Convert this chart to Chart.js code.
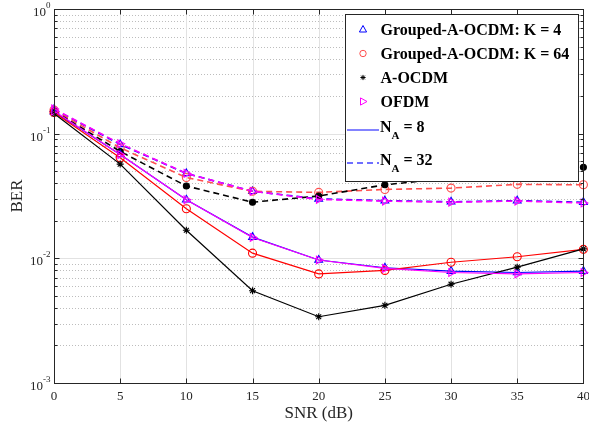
<!DOCTYPE html>
<html>
<head>
<meta charset="utf-8">
<script src="https://cdn.jsdelivr.net/npm/chart.js@4.4.1/dist/chart.umd.min.js"></script>
<style>
  html, body { margin: 0; padding: 0; background: #fff; }
  #wrap { width: 589px; height: 427px; }
</style>
</head>
<body>
<div id="wrap"><canvas id="berChart"></canvas></div>
<script>
const snr = [0, 5, 10, 15, 20, 25, 30, 35, 40];
const xTicks = [0, 5, 10, 15, 20, 25, 30, 35, 40];
const yDecades = [0, -1, -2, -3];

// N_A = 8 (solid lines)
const k4Na8    = [0.150, 0.068, 0.0295, 0.0148, 0.0097, 0.0084, 0.0079, 0.0077, 0.0079];
const k64Na8   = [0.148, 0.064, 0.0250, 0.0110, 0.0075, 0.0080, 0.0093, 0.0103, 0.0118];
const aocdmNa8 = [0.145, 0.057, 0.0168, 0.0055, 0.0034, 0.0042, 0.0062, 0.0085, 0.0119];
const ofdmNa8  = [0.152, 0.068, 0.0295, 0.0147, 0.0097, 0.0083, 0.0077, 0.0075, 0.0077];

// N_A = 32 (dashed lines)
const k4Na32    = [0.157, 0.082, 0.048, 0.0345, 0.0300, 0.0290, 0.0284, 0.0290, 0.0282];
const k64Na32   = [0.155, 0.077, 0.0445, 0.0345, 0.0338, 0.0357, 0.0366, 0.0392, 0.0389];
const aocdmNa32 = [0.152, 0.072, 0.038, 0.0282, 0.0316, 0.0389, 0.0440, 0.0490, 0.0537];
const ofdmNa32  = [0.158, 0.083, 0.048, 0.0345, 0.0297, 0.0288, 0.0282, 0.0288, 0.0278];

const legendLabels = ['Grouped-A-OCDM: K = 4', 'Grouped-A-OCDM: K = 64', 'A-OCDM', 'OFDM'];

const BLUE = '#0000ff', RED = '#ff0000', BLACK = '#000000', MAGENTA = '#ff00ff';
const RED_LIGHT = '#ff4d4d';
const SERIF = '"Liberation Serif", "Times New Roman", serif';

function series(values, color, style, dashed, extra) {
  return Object.assign({
    data: snr.map((s, i) => ({ x: s, y: values[i] })),
    borderColor: color,
    borderWidth: dashed ? 1.6 : 1.2,
    borderDash: dashed ? [6, 4] : [],
    pointStyle: style,
    pointRadius: 4.5,
    pointBorderColor: color,
    pointBackgroundColor: 'rgba(0,0,0,0)',
    pointBorderWidth: 1.1,
    tension: 0,
    fill: false,
    clip: false
  }, extra || {});
}

const datasets = [
  series(k4Na32, BLUE, 'triangle', true),
  series(k64Na32, RED_LIGHT, 'circle', true, { pointRadius: 4 }),
  series(aocdmNa32, BLACK, 'circle', true, { pointRadius: 3, pointBackgroundColor: BLACK }),
  series(ofdmNa32, MAGENTA, 'triangle', true, { pointRotation: 90 }),
  series(k4Na8, BLUE, 'triangle', false),
  series(k64Na8, RED, 'circle', false, { pointRadius: 4 }),
  series(aocdmNa8, BLACK, 'star', false, { pointRadius: 3.5 }),
  series(ofdmNa8, MAGENTA, 'triangle', false, { pointRotation: 90 })
];
// later series sit on top
datasets.forEach((d, i) => { d.order = datasets.length - i; });

// grid, axes box, tick labels, axis titles and legend
const framePlugin = {
  id: 'frame',
  beforeDatasetsDraw(chart) {
    const { ctx, chartArea: a, scales: { x, y } } = chart;
    ctx.save();
    ctx.lineWidth = 1;
    // minor log grid (dotted)
    ctx.strokeStyle = '#bdbdbd';
    ctx.setLineDash([1, 2]);
    for (let e = -3; e < 0; e++) {
      for (let m = 2; m <= 9; m++) {
        const py = Math.round(y.getPixelForValue(m * Math.pow(10, e))) + 0.5;
        ctx.beginPath(); ctx.moveTo(a.left, py); ctx.lineTo(a.right, py); ctx.stroke();
      }
    }
    // major grid (solid)
    ctx.setLineDash([]);
    ctx.strokeStyle = '#e2e2e2';
    xTicks.forEach(t => {
      const px = Math.round(x.getPixelForValue(t)) + 0.5;
      ctx.beginPath(); ctx.moveTo(px, a.top); ctx.lineTo(px, a.bottom); ctx.stroke();
    });
    yDecades.forEach(e => {
      const py = Math.round(y.getPixelForValue(Math.pow(10, e))) + 0.5;
      ctx.beginPath(); ctx.moveTo(a.left, py); ctx.lineTo(a.right, py); ctx.stroke();
    });
    ctx.restore();
  },
  afterDatasetsDraw(chart) {
    const { ctx, chartArea: a, scales: { x, y } } = chart;
    const L = Math.round(a.left) + 0.5, R = Math.round(a.right) + 0.5;
    const T = Math.round(a.top) + 0.5, B = Math.round(a.bottom) + 0.5;
    ctx.save();
    ctx.strokeStyle = '#262626';
    ctx.lineWidth = 1;
    ctx.strokeRect(L, T, R - L, B - T);

    // x ticks, top and bottom
    ctx.beginPath();
    xTicks.forEach(t => {
      const px = Math.round(x.getPixelForValue(t)) + 0.5;
      ctx.moveTo(px, B); ctx.lineTo(px, B - 5);
      ctx.moveTo(px, T); ctx.lineTo(px, T + 5);
    });
    // y ticks, left and right
    for (let e = -3; e <= 0; e++) {
      const py = Math.round(y.getPixelForValue(Math.pow(10, e))) + 0.5;
      ctx.moveTo(L, py); ctx.lineTo(L + 5, py);
      ctx.moveTo(R, py); ctx.lineTo(R - 5, py);
      if (e === 0) continue;
      for (let m = 2; m <= 9; m++) {
        const pm = Math.round(y.getPixelForValue(m * Math.pow(10, e))) + 0.5;
        ctx.moveTo(L, pm); ctx.lineTo(L + 3, pm);
        ctx.moveTo(R, pm); ctx.lineTo(R - 3, pm);
      }
    }
    ctx.stroke();

    // tick labels
    ctx.fillStyle = '#262626';
    ctx.font = '13px ' + SERIF;
    ctx.textAlign = 'center';
    ctx.textBaseline = 'alphabetic';
    xTicks.forEach(t => ctx.fillText(String(t), x.getPixelForValue(t), B + 16));
    yDecades.forEach(e => {
      const py = y.getPixelForValue(Math.pow(10, e));
      const sup = String(e);
      ctx.font = '9px ' + SERIF;
      const sw = ctx.measureText(sup).width;
      ctx.textAlign = 'left';
      ctx.fillText(sup, L - 4 - sw, py - 1);
      ctx.font = '13px ' + SERIF;
      ctx.textAlign = 'right';
      ctx.fillText('10', L - 4 - sw, py + 7);
    });

    // axis titles
    ctx.fillStyle = '#262626';
    ctx.font = '17px ' + SERIF;
    ctx.textAlign = 'center';
    ctx.textBaseline = 'middle';
    ctx.fillText('SNR (dB)', (a.left + a.right) / 2, 414);
    ctx.save();
    ctx.translate(18, (a.top + a.bottom) / 2);
    ctx.rotate(-Math.PI / 2);
    ctx.fillText('BER', 0, 0);
    ctx.restore();

    drawLegend(ctx);
    ctx.restore();
  }
};

function marker(ctx, kind, cx, cy, color) {
  ctx.save();
  ctx.strokeStyle = color;
  ctx.fillStyle = color;
  ctx.lineWidth = 1;
  ctx.setLineDash([]);
  ctx.beginPath();
  if (kind === 'up') {
    ctx.moveTo(cx, cy - 4); ctx.lineTo(cx + 3.6, cy + 2.5); ctx.lineTo(cx - 3.6, cy + 2.5); ctx.closePath();
    ctx.stroke();
  } else if (kind === 'right') {
    ctx.moveTo(cx + 4, cy); ctx.lineTo(cx - 2.5, cy + 3.6); ctx.lineTo(cx - 2.5, cy - 3.6); ctx.closePath();
    ctx.stroke();
  } else if (kind === 'circle') {
    ctx.arc(cx, cy, 3.2, 0, Math.PI * 2);
    ctx.stroke();
  } else {
    for (let k = 0; k < 4; k++) {
      const ang = k * Math.PI / 4;
      ctx.moveTo(cx - 2.6 * Math.cos(ang), cy - 2.6 * Math.sin(ang));
      ctx.lineTo(cx + 2.6 * Math.cos(ang), cy + 2.6 * Math.sin(ang));
    }
    ctx.stroke();
  }
  ctx.restore();
}

function drawLegend(ctx) {
  const bx = 345.5, by = 14.5, bw = 233, bh = 167;
  ctx.save();
  ctx.fillStyle = '#ffffff';
  ctx.fillRect(bx, by, bw, bh);
  ctx.strokeStyle = '#262626';
  ctx.lineWidth = 1;
  ctx.strokeRect(bx, by, bw, bh);

  const rows = [29.5, 53.5, 77.5, 101.5];
  const kinds = ['up', 'circle', 'star', 'right'];
  const colors = [BLUE, RED_LIGHT, BLACK, MAGENTA];
  ctx.font = 'bold 16px ' + SERIF;
  ctx.fillStyle = '#000';
  ctx.textAlign = 'left';
  ctx.textBaseline = 'middle';
  legendLabels.forEach((lbl, i) => {
    marker(ctx, kinds[i], 363, rows[i], colors[i]);
    ctx.fillText(lbl, 380.5, rows[i] + 1);
  });

  // line-style entries with subscript
  const lineRows = [128, 161];
  const naValues = ['8', '32'];
  lineRows.forEach((ry, i) => {
    ctx.strokeStyle = '#4040ff';
    ctx.lineWidth = 1.3;
    ctx.setLineDash(i === 0 ? [] : [6, 4]);
    ctx.beginPath();
    ctx.moveTo(347, ry + 2); ctx.lineTo(379, ry + 2);
    ctx.stroke();
    ctx.setLineDash([]);
    ctx.font = 'bold 16px ' + SERIF;
    ctx.fillText('N', 380, ry);
    const nw = ctx.measureText('N').width;
    ctx.font = 'bold 11px ' + SERIF;
    ctx.fillText('A', 380 + nw, ry + 8);
    const aw = ctx.measureText('A').width;
    ctx.font = 'bold 16px ' + SERIF;
    ctx.fillText(' = ' + naValues[i], 380 + nw + aw, ry);
  });
  ctx.restore();
}

new Chart(document.getElementById('berChart'), {
  type: 'line',
  data: { datasets },
  options: {
    responsive: true,
    maintainAspectRatio: false,
    animation: false,
    layout: { padding: { left: 54, top: 9, right: 4, bottom: 44 } },
    scales: {
      x: { type: 'linear', min: 0, max: 40, display: false },
      y: { type: 'logarithmic', min: 0.001, max: 1, display: false }
    },
    plugins: {
      legend: { display: false },
      tooltip: { enabled: false }
    }
  },
  plugins: [framePlugin]
});
</script>
</body>
</html>
